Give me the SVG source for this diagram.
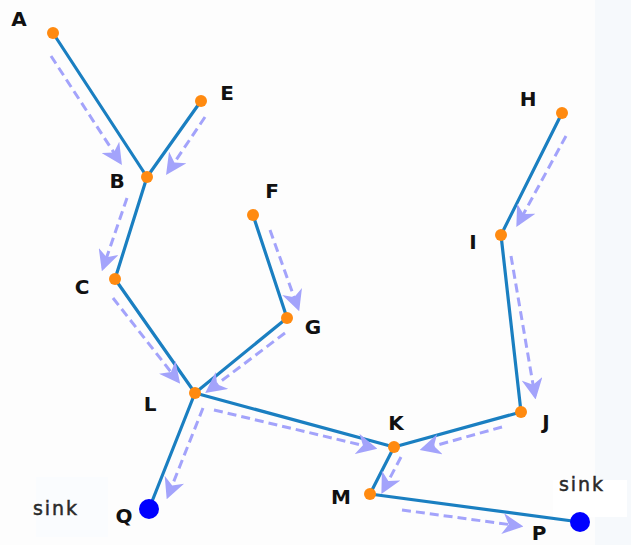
<svg xmlns="http://www.w3.org/2000/svg" width="631" height="545" viewBox="0 0 631 545">
<defs>
<style>
.edge{stroke:#1a7fc1;stroke-width:3.2;fill:none;stroke-linecap:round}
.flow{stroke:#a3a3fb;stroke-width:3;fill:none;stroke-dasharray:9,5;marker-end:url(#ah)}
.nd{fill:#ff8a10}
.sink{fill:#0000ff}
.lbl{font-family:"DejaVu Sans",Verdana,sans-serif;font-weight:bold;font-size:20px;fill:#111}
.snk{font-family:"DejaVu Sans",Verdana,sans-serif;font-size:19px;fill:#2a2a2a;stroke:#2a2a2a;stroke-width:0.5;letter-spacing:2px}
</style>
<marker id="ah" viewBox="0 0 12 12" refX="10" refY="6" markerWidth="7" markerHeight="7" orient="auto" markerUnits="strokeWidth">
<path d="M0,0 L12,6 L0,12 L3.5,6 Z" fill="#a3a3fb"/>
</marker>
</defs>
<rect width="631" height="545" fill="#fdfdfd"/>
<rect x="595" y="0" width="36" height="545" fill="#f6f9fc"/>
<rect x="36" y="477" width="72" height="60" fill="#fafcfe"/>
<rect x="553" y="480" width="74" height="37" fill="#ffffff"/>
<g id="connectors">
<path class="edge" d="M53,33 L147,177"/>
<path class="edge" d="M201,101 L147,177"/>
<path class="edge" d="M147,177 L115,279"/>
<path class="edge" d="M115,279 L195,393"/>
<path class="edge" d="M253,215 L287,318"/>
<path class="edge" d="M287,318 L195,393"/>
<path class="edge" d="M195,393 L149,509"/>
<path class="edge" d="M195,393 L394,447"/>
<path class="edge" d="M562,113 L501,235"/>
<path class="edge" d="M501,235 L521,412"/>
<path class="edge" d="M521,412 L394,447"/>
<path class="edge" d="M394,447 L370,494"/>
<path class="edge" d="M370,494 L580,522"/>
<path class="flow" d="M51,56 L120,162"/>
<path class="flow" d="M205,117 L168,172"/>
<path class="flow" d="M127,198 L103,268"/>
<path class="flow" d="M113,298 L178,381"/>
<path class="flow" d="M270,230 L298,308"/>
<path class="flow" d="M285,333 L208,391"/>
<path class="flow" d="M203,408 L168,496"/>
<path class="flow" d="M214,410 L374,448"/>
<path class="flow" d="M502,427 L423,449"/>
<path class="flow" d="M401,457 L383,491"/>
<path class="flow" d="M402,510 L520,526"/>
<path class="flow" d="M566,136 L518,224"/>
<path class="flow" d="M511,256 L535,396"/>
</g>
<g id="A"><circle class="nd" cx="53" cy="33" r="6"/><text class="lbl" x="19" y="26" text-anchor="middle">A</text></g>
<g id="E"><circle class="nd" cx="201" cy="101" r="6"/><text class="lbl" x="227" y="100" text-anchor="middle">E</text></g>
<g id="B"><circle class="nd" cx="147" cy="177" r="6"/><text class="lbl" x="117" y="188" text-anchor="middle">B</text></g>
<g id="C"><circle class="nd" cx="115" cy="279" r="6"/><text class="lbl" x="82" y="294" text-anchor="middle">C</text></g>
<g id="F"><circle class="nd" cx="253" cy="215" r="6"/><text class="lbl" x="272" y="198" text-anchor="middle">F</text></g>
<g id="G"><circle class="nd" cx="287" cy="318" r="6"/><text class="lbl" x="313" y="334" text-anchor="middle">G</text></g>
<g id="L"><circle class="nd" cx="195" cy="393" r="6"/><text class="lbl" x="150" y="411" text-anchor="middle">L</text></g>
<g id="K"><circle class="nd" cx="394" cy="447" r="6"/><text class="lbl" x="396" y="430" text-anchor="middle">K</text></g>
<g id="J"><circle class="nd" cx="521" cy="412" r="6"/><text class="lbl" x="546" y="429" text-anchor="middle">J</text></g>
<g id="H"><circle class="nd" cx="562" cy="113" r="6"/><text class="lbl" x="528" y="106" text-anchor="middle">H</text></g>
<g id="I"><circle class="nd" cx="501" cy="235" r="6"/><text class="lbl" x="473" y="249" text-anchor="middle">I</text></g>
<g id="M"><circle class="nd" cx="370" cy="494" r="6"/><text class="lbl" x="341" y="504" text-anchor="middle">M</text></g>
<g id="P"><circle class="sink" cx="580" cy="522" r="10"/><text class="lbl" x="539" y="540" text-anchor="middle">P</text><text class="snk" x="582" y="491" text-anchor="middle">sink</text></g>
<g id="Q"><circle class="sink" cx="149" cy="509" r="10"/><text class="lbl" x="124" y="523" text-anchor="middle">Q</text><text class="snk" x="56" y="515" text-anchor="middle">sink</text></g>
</svg>
